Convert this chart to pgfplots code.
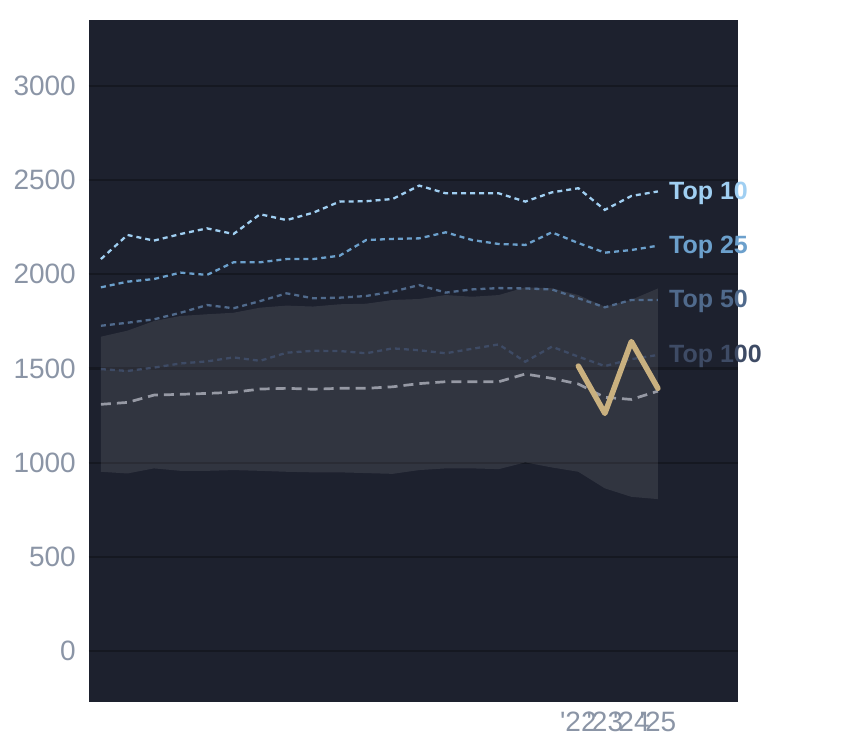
\documentclass[border=0pt]{standalone}
\usepackage{pgfplots}
\pgfplotsset{compat=1.18}
\usepackage{fontspec}
\setmainfont{Liberation Sans}
\definecolor{bgcol}{RGB}{29,33,46}
\definecolor{gridcol}{RGB}{21,24,33}
\definecolor{tickcol}{RGB}{139,149,166}
\definecolor{cten}{RGB}{160,207,242}
\definecolor{ctwf}{RGB}{108,160,204}
\definecolor{cfif}{RGB}{80,106,140}
\definecolor{chun}{RGB}{62,75,101}
\definecolor{cmed}{RGB}{150,153,164}
\definecolor{cgold}{RGB}{201,176,127}
\begin{document}
\begin{tikzpicture}
\useasboundingbox (-89bp,-46bp) rectangle (755bp,702bp);
\begin{axis}[
  at={(0,0)}, anchor=south west,
  scale only axis, width=649bp, height=682bp,
  xmin=2003.55, xmax=2028.02, ymin=-270, ymax=3350,
  axis background/.style={fill=bgcol},
  axis line style={draw=none},
  major tick length=0pt,
  ytick={0,500,1000,1500,2000,2500,3000},
  xtick={2022,2023,2024,2025},
  xticklabels={\textquotesingle22,\textquotesingle23,\textquotesingle24,\textquotesingle25},
  ymajorgrids, xmajorgrids=false,
  major grid style={draw=gridcol, line width=2.2bp},
  /pgf/number format/assume math mode=true,
  /pgf/number format/1000 sep={},
  tick label style={font=\fontsize{28bp}{32bp}\selectfont, text=tickcol, inner sep=0pt},
  yticklabel style={anchor=east, xshift=-13bp},
  xticklabel style={anchor=north, yshift=-10bp},
  clip=false,
]
% band
\addplot[fill=white, fill opacity=0.09, draw=none] coordinates {
(2004,1669)(2005,1701)(2006,1752)(2007,1779)(2008,1788)(2009,1796)(2010,1823)(2011,1834)(2012,1829)(2013,1841)(2014,1844)(2015,1864)(2016,1869)(2017,1890)(2018,1881)(2019,1890)(2020,1931)(2021,1926)(2022,1890)(2023,1828)(2024,1865)(2025,1925)
(2025,807)(2024,819)(2023,864)(2022,952)(2021,975)(2020,1002)(2019,966)(2018,970)(2017,970)(2016,961)(2015,941)(2014,945)(2013,949)(2012,949)(2011,952)(2010,957)(2009,961)(2008,957)(2007,957)(2006,970)(2005,943)(2004,952)
} -- cycle;
% median
\addplot[cmed, line width=2.7bp, dash pattern=on 10bp off 6bp] coordinates {
(2004,1310)(2005,1320)(2006,1359)(2007,1363)(2008,1368)(2009,1374)(2010,1391)(2011,1395)(2012,1390)(2013,1395)(2014,1395)(2015,1403)(2016,1420)(2017,1430)(2018,1430)(2019,1430)(2020,1471)(2021,1448)(2022,1418)(2023,1347)(2024,1336)(2025,1380)};
% top 100
\addplot[chun, line width=2.3bp, dash pattern=on 5bp off 4bp] coordinates {
(2004,1497)(2005,1487)(2006,1505)(2007,1527)(2008,1538)(2009,1559)(2010,1541)(2011,1584)(2012,1594)(2013,1593)(2014,1581)(2015,1607)(2016,1597)(2017,1581)(2018,1605)(2019,1628)(2020,1536)(2021,1616)(2022,1563)(2023,1513)(2024,1550)(2025,1572)};
% top 50
\addplot[cfif, line width=2.3bp, dash pattern=on 5bp off 4bp] coordinates {
(2004,1727)(2005,1743)(2006,1761)(2007,1796)(2008,1837)(2009,1820)(2010,1858)(2011,1899)(2012,1873)(2013,1876)(2014,1885)(2015,1908)(2016,1943)(2017,1903)(2018,1920)(2019,1927)(2020,1925)(2021,1920)(2022,1873)(2023,1825)(2024,1864)(2025,1864)};
% top 25
\addplot[ctwf, line width=2.3bp, dash pattern=on 5bp off 4bp] coordinates {
(2004,1931)(2005,1961)(2006,1975)(2007,2009)(2008,1997)(2009,2064)(2010,2064)(2011,2081)(2012,2081)(2013,2099)(2014,2182)(2015,2188)(2016,2191)(2017,2223)(2018,2182)(2019,2161)(2020,2156)(2021,2223)(2022,2166)(2023,2115)(2024,2129)(2025,2152)};
% top 10
\addplot[cten, line width=2.3bp, dash pattern=on 5bp off 4bp] coordinates {
(2004,2081)(2005,2209)(2006,2179)(2007,2214)(2008,2244)(2009,2214)(2010,2319)(2011,2288)(2012,2327)(2013,2386)(2014,2388)(2015,2400)(2016,2471)(2017,2430)(2018,2430)(2019,2430)(2020,2386)(2021,2435)(2022,2457)(2023,2342)(2024,2416)(2025,2440)};
% gold
\addplot[cgold, line width=5.5bp, line join=round, line cap=round] coordinates {
(2022,1513)(2023,1262)(2024,1643)(2025,1395)};
\node[anchor=west, inner sep=0pt, xshift=11bp, yshift=-1.5bp, text=cten, font=\fontsize{25bp}{29bp}\selectfont\bfseries] at (axis cs:2025,2440) {Top 10};
\node[anchor=west, inner sep=0pt, xshift=11bp, yshift=-1.5bp, text=ctwf, font=\fontsize{25bp}{29bp}\selectfont\bfseries] at (axis cs:2025,2152) {Top 25};
\node[anchor=west, inner sep=0pt, xshift=11bp, yshift=-1.5bp, text=cfif, font=\fontsize{25bp}{29bp}\selectfont\bfseries] at (axis cs:2025,1864) {Top 50};
\node[anchor=west, inner sep=0pt, xshift=11bp, yshift=-1.5bp, text=chun, font=\fontsize{25bp}{29bp}\selectfont\bfseries] at (axis cs:2025,1572) {Top 100};
\end{axis}
\end{tikzpicture}
\end{document}
